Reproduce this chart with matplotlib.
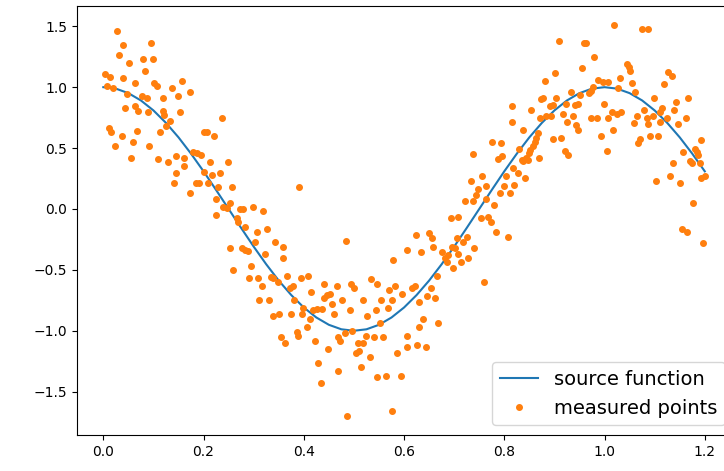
import matplotlib.pyplot as plt
import numpy as np

# source function on a 0.025 grid
src_x = np.linspace(0, 1.2, 49)
src_y = [1.0, 0.988, 0.951, 0.891, 0.809, 0.707, 0.588, 0.454, 0.309, 0.156,
         0.0, -0.156, -0.309, -0.454, -0.588, -0.707, -0.809, -0.891, -0.951, -0.988,
         -1.0, -0.988, -0.951, -0.891, -0.809, -0.707, -0.588, -0.454, -0.309, -0.156,
         0.0, 0.156, 0.309, 0.454, 0.588, 0.707, 0.809, 0.891, 0.951, 0.988,
         1.0, 0.988, 0.951, 0.891, 0.809, 0.707, 0.588, 0.454, 0.309]

# measured points, estimated from the picture region by region
x_a = [0.027, 0.040, 0.031, 0.095, 0.080, 0.100, 0.051, 0.083, 0.003, 0.013,
       0.040, 0.063, 0.102, 0.107, 0.138, 0.156, 0.008, 0.020, 0.048, 0.077,
       0.087, 0.119, 0.150, 0.043, 0.063, 0.070, 0.090, 0.120, 0.122, 0.153,
       0.134, 0.126, 0.012, 0.015, 0.037, 0.067, 0.113, 0.023, 0.060, 0.091,
       0.055, 0.110, 0.130, 0.146, 0.160, 0.160, 0.146, 0.141]
y_a = [1.461, 1.346, 1.264, 1.360, 1.232, 1.232, 1.196, 1.135, 1.106, 1.086,
       1.073, 1.037, 1.037, 1.010, 0.991, 1.051, 1.010, 0.991, 0.942, 0.928,
       0.909, 0.909, 0.928, 0.827, 0.846, 0.805, 0.794, 0.805, 0.772, 0.794,
       0.725, 0.684, 0.663, 0.630, 0.599, 0.643, 0.630, 0.520, 0.553, 0.520,
       0.421, 0.408, 0.388, 0.438, 0.421, 0.356, 0.293, 0.211]

x_b = [0.173, 0.236, 0.201, 0.207, 0.221, 0.178, 0.186, 0.195, 0.213, 0.248,
       0.201, 0.216, 0.233, 0.184, 0.190, 0.208, 0.229, 0.256, 0.173, 0.224,
       0.253, 0.239, 0.246, 0.273, 0.279, 0.299, 0.319, 0.224, 0.390]
y_b = [0.958, 0.745, 0.635, 0.630, 0.599, 0.470, 0.457, 0.443, 0.388, 0.388,
       0.306, 0.279, 0.293, 0.211, 0.211, 0.211, 0.183, 0.178, 0.129, 0.082,
       0.047, 0.019, 0.006, 0.000, 0.000, 0.019, -0.016, -0.049, 0.178]

x_c = [0.266, 0.269, 0.283, 0.306, 0.326, 0.253, 0.276, 0.283, 0.288, 0.303,
       0.323, 0.342, 0.358, 0.358, 0.259, 0.295, 0.291, 0.308, 0.316, 0.335,
       0.339, 0.349, 0.366, 0.372, 0.379, 0.311, 0.331, 0.381, 0.339, 0.351,
       0.374, 0.354, 0.362]
y_c = [-0.076, -0.104, -0.145, -0.191, -0.164, -0.323, -0.323, -0.337, -0.342, -0.273,
       -0.372, -0.273, -0.310, -0.405, -0.501, -0.468, -0.564, -0.564, -0.632, -0.556,
       -0.569, -0.597, -0.550, -0.646, -0.632, -0.747, -0.747, -0.747, -0.876, -0.862,
       -0.862, -1.053, -1.103]

x_d = [0.484, 0.578, 0.394, 0.409, 0.414, 0.441, 0.466, 0.495, 0.501,
       0.535, 0.547, 0.570, 0.582, 0.596, 0.441, 0.446, 0.452, 0.457, 0.476,
       0.519, 0.555, 0.575, 0.544, 0.567, 0.492, 0.527, 0.461, 0.397, 0.399,
       0.419, 0.426, 0.436, 0.412, 0.406, 0.386, 0.388, 0.422, 0.468, 0.472,
       0.482, 0.497, 0.509, 0.519, 0.524, 0.541, 0.558, 0.552, 0.449, 0.504,
       0.511, 0.532, 0.585, 0.429, 0.468, 0.515, 0.547, 0.563, 0.594, 0.434,
       0.487, 0.575]
y_d = [-0.260, -0.419, -0.564, -0.550, -0.684, -0.616, -0.632, -0.616, -0.646,
       -0.577, -0.616, -0.665, -0.632, -0.700, -0.733, -0.706, -0.698, -0.782, -0.747,
       -0.747, -0.747, -0.747, -0.829, -0.810, -0.829, -0.876, -0.862, -0.865, -0.810,
       -0.829, -0.821, -0.823, -0.906, -0.971, -1.007, -1.040, -1.084, -1.048, -1.084,
       -1.021, -1.002, -1.103, -1.103, -1.040, -1.053, -1.053, -0.938, -1.152, -1.180,
       -1.166, -1.218, -1.180, -1.262, -1.330, -1.300, -1.382, -1.369, -1.369, -1.426,
       -1.700, -1.656]

x_e = [0.815, 0.815, 0.776, 0.793, 0.737, 0.788, 0.796, 0.818, 0.733, 0.756,
       0.748, 0.763, 0.803, 0.800, 0.820, 0.743, 0.721, 0.737, 0.763, 0.791,
       0.811, 0.780, 0.693, 0.708, 0.753, 0.768]
y_e = [0.846, 0.717, 0.553, 0.539, 0.452, 0.411, 0.438, 0.339, 0.230, 0.273,
       0.164, 0.191, 0.273, 0.191, 0.197, 0.115, 0.066, 0.066, 0.082, 0.129,
       0.129, 0.033, -0.071, -0.063, -0.071, -0.063]

x_f = [0.773, 0.783, 0.808, 0.623, 0.650, 0.655, 0.605, 0.634, 0.658, 0.705,
       0.725, 0.718, 0.675, 0.682, 0.685, 0.688, 0.701, 0.695, 0.708, 0.713,
       0.698, 0.728, 0.740, 0.759, 0.666, 0.615, 0.622, 0.654, 0.645, 0.662,
       0.630, 0.638, 0.630, 0.668, 0.605, 0.605, 0.626, 0.643]
y_f = [-0.109, -0.191, -0.227, -0.213, -0.200, -0.241, -0.337, -0.356, -0.310, -0.241,
       -0.227, -0.273, -0.351, -0.405, -0.433, -0.378, -0.323, -0.310, -0.372, -0.433,
       -0.487, -0.405, -0.323, -0.597, -0.550, -0.651, -0.630, -0.646, -0.712, -0.728,
       -0.766, -0.906, -0.971, -0.938, -1.040, -1.135, -1.117, -1.135]

x_g = [1.019, 0.909, 0.959, 0.964, 0.979, 0.956, 0.902, 0.882,
       0.987, 0.997, 1.007, 1.031, 0.977, 0.973, 0.969, 1.027, 0.934, 0.951,
       0.874, 0.878, 0.904, 0.854, 0.891, 0.898, 0.924, 0.941, 0.947, 0.999,
       0.917, 0.937, 0.871, 0.884, 0.893, 0.973, 0.984, 1.006, 1.014, 1.024,
       1.033, 0.926, 0.944, 0.947, 0.838, 1.016, 0.868, 0.864, 0.861, 0.914,
       0.898, 0.993, 0.858, 0.851, 0.849, 0.921, 0.927, 1.004, 0.829, 0.844,
       0.838, 0.848, 0.835, 0.869, 0.828, 0.842]
y_g = [1.511, 1.382, 1.365, 1.360, 1.250, 1.155, 1.119, 1.053,
       1.059, 1.045, 1.040, 1.073, 1.004, 0.969, 0.950, 0.991, 0.958, 0.936,
       0.903, 0.914, 0.909, 0.813, 0.848, 0.854, 0.862, 0.854, 0.862, 0.862,
       0.777, 0.764, 0.750, 0.766, 0.766, 0.745, 0.745, 0.745, 0.799, 0.778,
       0.799, 0.712, 0.690, 0.649, 0.649, 0.649, 0.621, 0.580, 0.553, 0.585,
       0.572, 0.599, 0.513, 0.486, 0.458, 0.480, 0.445, 0.472, 0.491, 0.417,
       0.390, 0.403, 0.403, 0.421, 0.293, 0.257]

x_h = [1.075, 1.086, 1.044, 1.049, 1.051, 1.126, 1.134, 1.055, 1.119, 1.060,
       1.099, 1.166, 1.142, 1.064, 1.079, 1.114, 1.110, 1.084, 1.097,
       1.139, 1.124, 1.059, 1.087, 1.110, 1.146, 1.162, 1.090, 1.106, 1.070,
       1.066, 1.193, 1.157, 1.180, 1.184, 1.186, 1.170, 1.174, 1.190, 1.137,
       1.192, 1.200, 1.130, 1.102, 1.150, 1.177, 1.154, 1.165, 1.197]
y_h = [1.478, 1.478, 1.188, 1.168, 1.135, 1.127, 1.092, 1.037, 1.024, 0.958,
       0.909, 0.909, 0.876, 0.766, 0.813, 0.832, 0.794, 0.745, 0.764,
       0.813, 0.745, 0.704, 0.695, 0.712, 0.698, 0.745, 0.599, 0.602, 0.572,
       0.539, 0.567, 0.470, 0.493, 0.466, 0.443, 0.394, 0.375, 0.375, 0.375,
       0.257, 0.273, 0.273, 0.230, 0.211, 0.047, -0.164, -0.191, -0.277]

pts_x = x_a + x_b + x_c + x_d + x_e + x_f + x_g + x_h
pts_y = y_a + y_b + y_c + y_d + y_e + y_f + y_g + y_h

fig = plt.figure(figsize=(7.24, 4.71), dpi=100)
# the reference is cropped on the right, so the axes run past the figure edge
ax = fig.add_axes([0.106, 0.0764, 0.909, 0.911])
ax.plot(src_x, src_y, label='source function')
ax.plot(pts_x, pts_y, 'o', ms=4, label='measured points')
ax.set_xlim(-0.053, 1.26)
ax.set_ylim(-1.856, 1.667)
ax.legend(loc='lower right', fontsize=14)

fig.savefig('out.png', dpi=100)
